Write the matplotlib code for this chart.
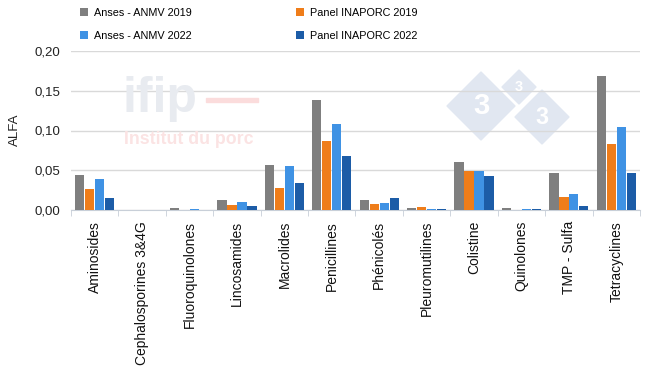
import matplotlib
matplotlib.use("Agg")
import matplotlib.pyplot as plt
import numpy as np
from matplotlib.patches import Polygon
from matplotlib.ticker import FuncFormatter, MultipleLocator

plt.rcParams["font.family"] = ["Liberation Sans", "DejaVu Sans"]

categories = [
    "Aminosides", "Cephalosporines 3&4G", "Fluoroquinolones", "Lincosamides",
    "Macrolides", "Penicillines", "Phénicolés", "Pleuromutilines",
    "Colistine", "Quinolones", "TMP - Sulfa", "Tetracyclines",
]
series_names = ["Anses - ANMV 2019", "Panel INAPORC 2019",
                "Anses - ANMV 2022", "Panel INAPORC 2022"]
anses_2019 = [0.044, 0.0, 0.002, 0.012, 0.056, 0.138, 0.012, 0.0025, 0.061, 0.0025, 0.046, 0.169]
panel_2019 = [0.026, 0.0, 0.0, 0.006, 0.028, 0.087, 0.007, 0.0035, 0.049, 0.0, 0.016, 0.083]
anses_2022 = [0.039, 0.0, 0.001, 0.010, 0.055, 0.108, 0.009, 0.001, 0.049, 0.001, 0.020, 0.104]
panel_2022 = [0.015, 0.0, 0.0005, 0.005, 0.034, 0.068, 0.015, 0.001, 0.043, 0.001, 0.005, 0.047]
colors = ["#7f7f7f", "#ef7d1a", "#3f92e4", "#1c5ca7"]

W, H = 650, 366
fig = plt.figure(figsize=(W / 100, H / 100), dpi=100)


def fx(px):
    return px / W


def fy(py):
    return 1 - py / H


# watermark (behind the transparent axes)
fig.text(fx(123), fy(99), "ifip", fontsize=36, fontweight="bold",
         color="#e8ebf0", va="center", ha="left", zorder=0)
fig.add_artist(plt.Rectangle((fx(206), fy(102)), fx(52), 4 / H,
                             transform=fig.transFigure, color="#fbdcdc", zorder=0))
fig.text(fx(124), fy(140), "Institut du porc", fontsize=12.8, fontweight="bold",
         color="#fbe3e3", va="center", ha="left", zorder=0)
for cx, cy, r in [(481, 106, 34), (519, 87, 17), (542, 117, 27)]:
    pts = [(fx(cx), fy(cy - r)), (fx(cx + r), fy(cy)),
           (fx(cx), fy(cy + r)), (fx(cx - r), fy(cy))]
    fig.add_artist(Polygon(pts, closed=True, transform=fig.transFigure,
                           color="#e1e7f1", zorder=0))
    fig.text(fx(cx), fy(cy), "3", fontsize=r * 0.62, fontweight="bold",
             color="white", ha="center", va="center", zorder=0)

ax = fig.add_axes([fx(71), fy(210), fx(640) - fx(71), fy(51) - fy(210)])
ax.set_facecolor("none")

x = np.arange(len(categories))
width = 0.195
offsets = [-1.5, -0.5, 0.5, 1.5]
for vals, name, c, off in zip([anses_2019, panel_2019, anses_2022, panel_2022],
                              series_names, colors, offsets):
    ax.bar(x + off * 0.21, vals, width, color=c, label=name, zorder=3)

ax.set_xlim(-0.5, len(categories) - 0.5)
ax.set_ylim(0, 0.2)
ax.yaxis.set_major_locator(MultipleLocator(0.05))
ax.yaxis.set_major_formatter(FuncFormatter(lambda v, _: f"{v:.2f}".replace(".", ",")))
ax.grid(axis="y", color="#d9d9d9", linewidth=1, zorder=0)
for s in ["top", "right", "left"]:
    ax.spines[s].set_visible(False)
ax.spines["bottom"].set_color("#c8cfd8")
ax.tick_params(axis="y", length=0, labelsize=9.5, pad=8, colors="#222222")

ax.set_xticks(x)
ax.set_xticklabels(categories, rotation=90, fontsize=10, color="#111111")
ax.tick_params(axis="x", which="major", length=0, pad=8)
ax.set_xticks(np.arange(len(categories) + 1) - 0.5, minor=True)
ax.tick_params(axis="x", which="minor", length=4, color="#c8cfd8")

fig.text(fx(15), fy(130), "ALFA", rotation=90, fontsize=9.5,
         ha="center", va="center", color="#222222")

handles, labels = ax.get_legend_handles_labels()
order = [0, 2, 1, 3]
fig.legend([handles[i] for i in order], [labels[i] for i in order],
           ncol=2, loc="upper left", bbox_to_anchor=(fx(70), fy(-2)),
           frameon=False, fontsize=7.8, handlelength=0.75, handleheight=0.75,
           handletextpad=0.55, columnspacing=9.6, labelspacing=1.22)

fig.savefig("out.png", dpi=100, facecolor="white")
